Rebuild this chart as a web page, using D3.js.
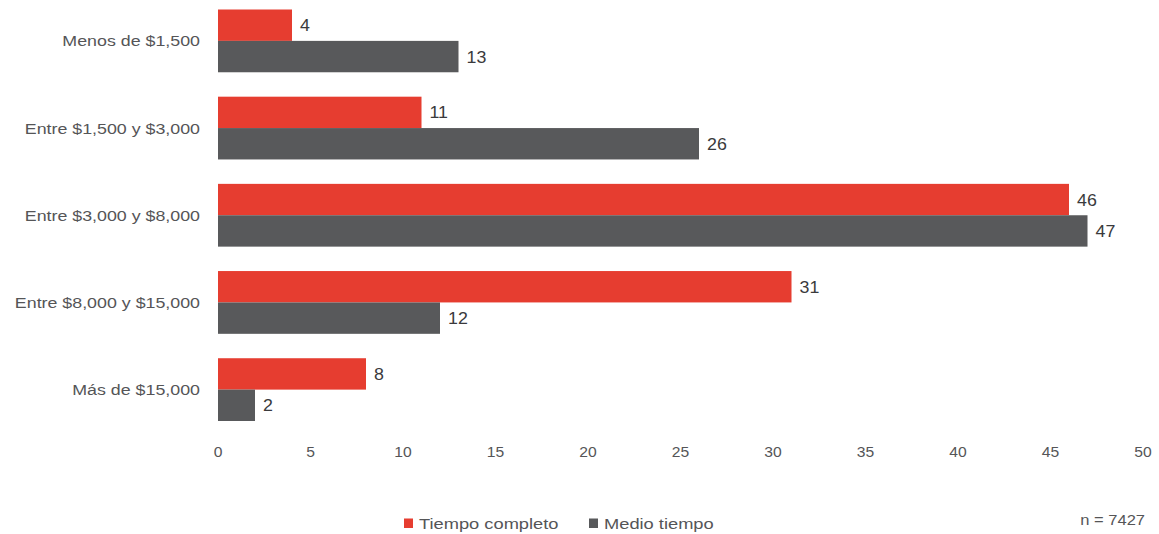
<!DOCTYPE html>
<html><head><meta charset="utf-8">
<script src="https://cdn.jsdelivr.net/npm/d3@7"></script>
<style>body{margin:0;background:#fff}svg{display:block}text{font-family:"Liberation Sans",Arial,sans-serif}</style>
</head><body>
<script>
const categories = ["Menos de $1,500","Entre $1,500 y $3,000","Entre $3,000 y $8,000","Entre $8,000 y $15,000","Más de $15,000"];
const tiempoCompleto = [4, 11, 46, 31, 8];
const medioTiempo = [13, 26, 47, 12, 2];
const seriesNames = ["Tiempo completo","Medio tiempo"];
const xTicks = [0,5,10,15,20,25,30,35,40,45,50];
const note = "n = 7427";

const W = 1159, H = 534;
const colors = ["#e63d30", "#58595b"];
const textColor = "#555557";
const svg = d3.select("body").append("svg").attr("width", W).attr("height", H);

function stext(sel, px, py, s) {
  return sel.attr("transform", `translate(${px},${py}) scale(${s},1)`);
}

const x = d3.scaleLinear().domain([0, 50]).range([218, 1143]);
const y = d3.scaleBand().domain(categories).range([9.5, 421]).paddingInner(0.28).paddingOuter(0);
const sub = d3.scaleBand().domain([0,1]).range([0, y.bandwidth()]);

const series = [tiempoCompleto, medioTiempo];
series.forEach((vals, si) => {
  const g = svg.append("g");
  g.selectAll("rect").data(categories).join("rect")
    .attr("x", x(0))
    .attr("y", c => y(c) + sub(si))
    .attr("width", (c, i) => x(vals[i]) - x(0))
    .attr("height", sub.bandwidth())
    .attr("fill", colors[si]);
  g.selectAll("text").data(categories).join("text")
    .attr("transform", (c, i) => `translate(${x(vals[i]) + 8},${y(c) + sub(si) + sub.bandwidth() / 2 + 6}) scale(1.08,1)`)
    .attr("font-size", 16.5)
    .attr("fill", "#3a3a3c")
    .text((c, i) => vals[i]);
});

// category labels
svg.append("g").selectAll("text").data(categories).join("text")
  .attr("transform", c => `translate(200,${y(c) + y.bandwidth() / 2 + 5.5}) scale(1.15,1)`)
  .attr("text-anchor", "end")
  .attr("font-size", 15.5)
  .attr("fill", textColor)
  .text(c => c);

// x axis
const axis = svg.append("g").attr("transform", "translate(0,447)")
  .call(d3.axisBottom(x).tickValues(xTicks).tickSize(0).tickPadding(0));
axis.select(".domain").remove();
axis.selectAll("text").attr("font-size", 14.5).attr("fill", textColor)
  .attr("font-family", '"Liberation Sans",Arial,sans-serif').attr("dy", "0.71em")
  .attr("transform", "scale(1.08,1)")
  .attr("x", 0);
axis.selectAll(".tick").each(function(d) {
  d3.select(this).attr("transform", `translate(${x(d)},0)`);
});

// legend
const legX = [404, 589];
seriesNames.forEach((n, i) => {
  svg.append("rect").attr("x", legX[i]).attr("y", 518.5).attr("width", 9).attr("height", 9.5).attr("fill", colors[i]);
  stext(svg.append("text"), legX[i] + 15, 529, 1.18).attr("font-size", 15.5).attr("fill", textColor).text(n);
});
stext(svg.append("text"), 1145, 525, 1.18).attr("text-anchor", "end").attr("font-size", 14).attr("fill", textColor).text(note);
</script>
</body></html>
